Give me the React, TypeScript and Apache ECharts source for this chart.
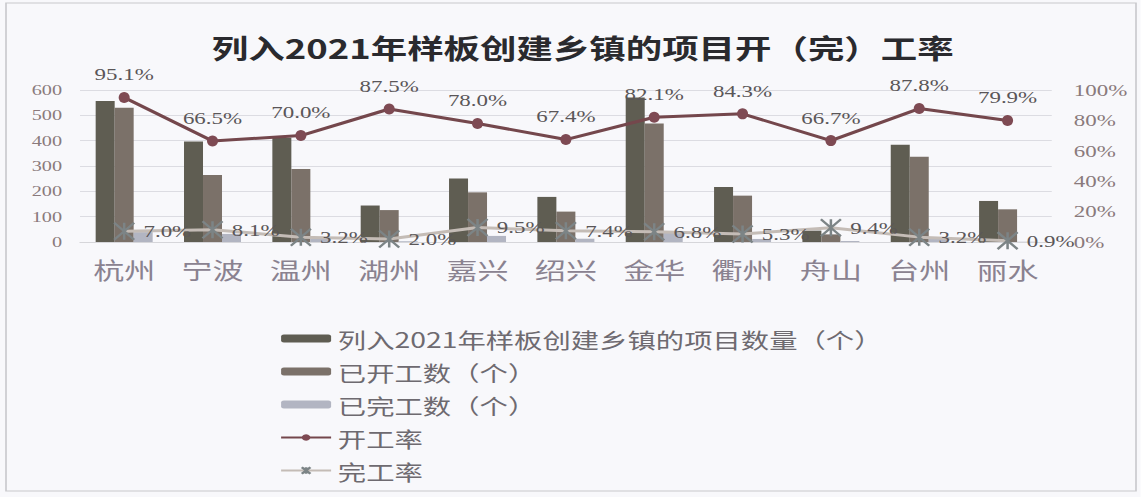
import React, { useEffect, useRef } from "react";
import * as echarts from "echarts";

const categories = ["杭州", "宁波", "温州", "湖州", "嘉兴", "绍兴", "金华", "衢州", "舟山", "台州", "丽水"];
const projects = [557, 397, 412, 144, 251, 178, 570, 217, 45, 384, 162];
const started = [530, 264, 288, 126, 196, 120, 468, 183, 30, 337, 129];
const completed = [39, 32, 13, 3, 24, 13, 39, 12, 4, 12, 1];
const startRate = [95.1, 66.5, 70.0, 87.5, 78.0, 67.4, 82.1, 84.3, 66.7, 87.8, 79.9];
const completeRate = [7.0, 8.1, 3.2, 2.0, 9.5, 7.4, 6.8, 5.3, 9.4, 3.2, 0.9];

const seriesNames = [
  "列入2021年样板创建乡镇的项目数量（个）",
  "已开工数（个）",
  "已完工数（个）",
  "开工率",
  "完工率",
];

// The reference scan is stretched horizontally; the chart is drawn narrower and widened with CSS.
const STRETCH = 1.35;
const W = 1141 / STRETCH;
const sx = (v: number) => v / STRETCH;

const serif = "'Liberation Serif', 'DejaVu Serif', serif";
const cjk = "'Noto Sans CJK SC', sans-serif";

export default function App() {
  const ref = useRef<HTMLDivElement>(null);
  useEffect(() => {
    if (!ref.current) return;
    const chart = echarts.init(ref.current, null, { renderer: "svg" });
    const pctLabel = (p: any) => Number(p.value).toFixed(1) + "%";
    chart.setOption({
      animation: false,
      backgroundColor: "#f8f8fb",
      title: {
        text: "列入2021年样板创建乡镇的项目开（完）工率",
        left: sx(576),
        top: 29,
        textAlign: "center",
        textStyle: { fontFamily: cjk, fontSize: 27, fontWeight: "bold", color: "#2a2a2e" },
      },
      graphic: [
        {
          type: "rect",
          shape: { x: sx(6), y: 3, width: sx(1130), height: 488 },
          style: { fill: "none", stroke: "#c8c8cc", lineWidth: 1.2 },
          silent: true,
        },
      ],
      legend: {
        orient: "vertical",
        left: sx(273),
        top: 323,
        itemGap: 12,
        itemWidth: sx(50),
        itemHeight: 8,
        textStyle: { fontFamily: cjk, fontSize: 21, color: "#6e6a70" },
        data: seriesNames,
      },
      grid: { left: sx(80), right: sx(89), top: 90, bottom: 255, containLabel: false },
      xAxis: {
        type: "category",
        data: categories,
        axisTick: { show: false },
        axisLine: { show: true, lineStyle: { color: "#d6d6da" } },
        axisLabel: { fontFamily: cjk, fontSize: 23, color: "#8a8290", margin: 15 },
      },
      yAxis: [
        {
          type: "value",
          min: 0,
          max: 600,
          interval: 100,
          axisLine: { show: false },
          axisTick: { show: false },
          splitLine: { lineStyle: { color: "#dcdce2" } },
          axisLabel: { fontFamily: serif, fontSize: 15, color: "#8a7a7c", margin: sx(18) },
        },
        {
          type: "value",
          min: 0,
          max: 100,
          interval: 20,
          axisLine: { show: false },
          axisTick: { show: false },
          splitLine: { show: false },
          axisLabel: { fontFamily: serif, fontSize: 17, color: "#8a7a7c", margin: sx(22), formatter: "{value}%" },
        },
      ],
      series: [
        {
          name: seriesNames[0],
          type: "bar",
          data: projects,
          barWidth: sx(19),
          barGap: "0%",
          itemStyle: { color: "#5f5d52" },
        },
        {
          name: seriesNames[1],
          type: "bar",
          data: started,
          barWidth: sx(19),
          barGap: "0%",
          itemStyle: { color: "#7b7169" },
        },
        {
          name: seriesNames[2],
          type: "bar",
          data: completed,
          barWidth: sx(19),
          barGap: "0%",
          itemStyle: { color: "#b2b5c2" },
        },
        {
          name: seriesNames[3],
          type: "line",
          yAxisIndex: 1,
          data: startRate,
          symbol: "circle",
          symbolSize: [sx(11), 11],
          lineStyle: { color: "#74474c", width: 3 },
          itemStyle: { color: "#7e4a53" },
          label: {
            show: true,
            position: "top",
            distance: 9,
            formatter: pctLabel,
            fontFamily: serif,
            fontSize: 17,
            color: "#5a5658",
          },
          z: 5,
        },
        {
          name: seriesNames[4],
          type: "line",
          yAxisIndex: 1,
          data: completeRate,
          symbol: "path://M0,0L10,10M10,0L0,10M5,0L5,10",
          symbolSize: [sx(20), 17],
          symbolKeepAspect: false,
          lineStyle: { color: "#c4bcb6", width: 3 },
          itemStyle: { color: "#7c8486", borderColor: "#7c8486", borderWidth: 2 },
          label: {
            show: true,
            position: "right",
            distance: sx(8),
            formatter: pctLabel,
            fontFamily: serif,
            fontSize: 17,
            color: "#5a5658",
          },
          z: 5,
        },
      ],
    });
    return () => chart.dispose();
  }, []);
  return (
    <div
      ref={ref}
      style={{
        position: "fixed",
        left: 0,
        top: 0,
        width: W,
        height: 497,
        transform: `scaleX(${STRETCH})`,
        transformOrigin: "0 0",
      }}
    />
  );
}
